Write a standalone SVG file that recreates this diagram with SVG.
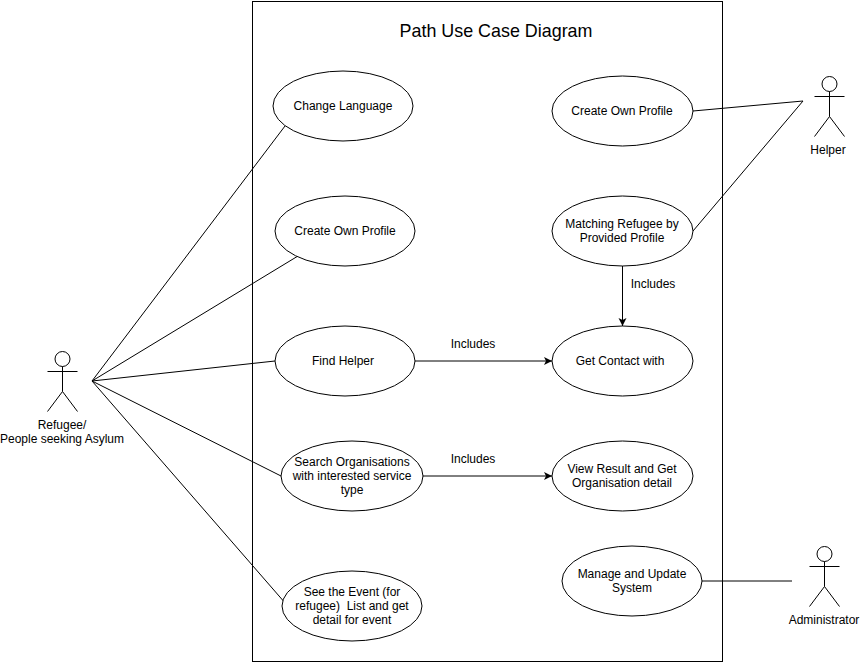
<svg xmlns="http://www.w3.org/2000/svg" width="860" height="664" viewBox="0 0 860 664">
<defs>
<marker id="arrow" markerUnits="userSpaceOnUse" markerWidth="10" markerHeight="10" refX="8" refY="4" orient="auto"><path d="M0,0 L8,4 L0,8 L2,4 Z" fill="#000"/></marker>
</defs>
<style>
text{font-family:"Helvetica","Liberation Sans",Arial,sans-serif;font-size:12px;fill:#000;text-anchor:middle;white-space:pre}
.s{fill:none;stroke:#000;stroke-width:1}
.e{fill:#fff;stroke:#000;stroke-width:1}
</style>
<rect width="860" height="664" fill="#fff"/>
<rect id="boundary" class="s" x="252.500" y="1.500" width="470" height="660"/>
<text x="496" y="37" style="font-size:17.900px">Path Use Case Diagram</text>
<g id="connectors">
<line class="s" x1="92" y1="381" x2="285" y2="126"/>
<line class="s" x1="92" y1="381" x2="298" y2="256"/>
<line class="s" x1="92" y1="381" x2="275" y2="361"/>
<line class="s" x1="92" y1="381" x2="285" y2="478"/>
<line class="s" x1="92" y1="381" x2="286" y2="604"/>
<line class="s" x1="693" y1="111" x2="803" y2="101"/>
<line class="s" x1="693" y1="231" x2="803" y2="101"/>
<line class="s" x1="702" y1="581" x2="792" y2="581"/>
<line class="s" x1="415" y1="361" x2="552" y2="361" marker-end="url(#arrow)"/>
<line class="s" x1="423" y1="476" x2="552" y2="476" marker-end="url(#arrow)"/>
<line class="s" x1="622.500" y1="266" x2="622.500" y2="326" marker-end="url(#arrow)"/>
<text x="473" y="348">Includes</text>
<text x="473" y="463">Includes</text>
<text x="653" y="288">Includes</text>
</g>
<g id="uc-language"><ellipse class="e" cx="343" cy="106" rx="70" ry="35"/><text x="343" y="110">Change Language</text></g>
<g id="uc-profile-refugee"><ellipse class="e" cx="345" cy="231" rx="70" ry="35"/><text x="345" y="235">Create Own Profile</text></g>
<g id="uc-find-helper"><ellipse class="e" cx="345" cy="361" rx="70" ry="35"/><text x="343" y="365">Find Helper</text></g>
<g id="uc-search"><ellipse class="e" cx="352" cy="476" rx="71" ry="35"/><text x="352" y="466">Search Organisations</text><text x="352" y="480">with interested service</text><text x="352" y="494">type</text></g>
<g id="uc-event"><ellipse class="e" cx="352" cy="606" rx="70" ry="35"/><text x="352" y="596">See the Event (for</text><text x="352" y="610">refugee)  List and get</text><text x="352" y="624">detail for event</text></g>
<g id="uc-profile-helper"><ellipse class="e" cx="622.500" cy="111" rx="70.500" ry="35"/><text x="622" y="115">Create Own Profile</text></g>
<g id="uc-matching"><ellipse class="e" cx="622.500" cy="231" rx="70.500" ry="35"/><text x="622" y="228">Matching Refugee by</text><text x="622" y="242">Provided Profile</text></g>
<g id="uc-contact"><ellipse class="e" cx="622.500" cy="361" rx="70.500" ry="35"/><text x="620" y="365">Get Contact with</text></g>
<g id="uc-result"><ellipse class="e" cx="622.500" cy="476" rx="70.500" ry="35"/><text x="622" y="473">View Result and Get</text><text x="622" y="487">Organisation detail</text></g>
<g id="uc-manage"><ellipse class="e" cx="632" cy="581" rx="70" ry="35"/><text x="632" y="578">Manage and Update</text><text x="632" y="592">System</text></g>
<g id="actor-refugee"><circle class="s" cx="62.500" cy="359" r="7.500"/><path class="s" d="M62.500,366.500V391.500M47.500,371.500H77.500M62.500,391.500L47.500,411.500M62.500,391.500L77.500,411.500"/><text x="62" y="429">Refugee/</text><text x="62" y="443">People seeking Asylum</text></g>
<g id="actor-helper"><circle class="s" cx="829.500" cy="84" r="7.500"/><path class="s" d="M829.500,91.500V116.500M814.500,96.500H844.500M829.500,116.500L814.500,136.500M829.500,116.500L844.500,136.500"/><text x="828" y="154">Helper</text></g>
<g id="actor-admin"><circle class="s" cx="824.500" cy="554" r="7.500"/><path class="s" d="M824.500,561.500V586.500M809.500,566.500H839.500M824.500,586.500L809.500,606.500M824.500,586.500L839.500,606.500"/><text x="824" y="624">Administrator</text></g>
</svg>
